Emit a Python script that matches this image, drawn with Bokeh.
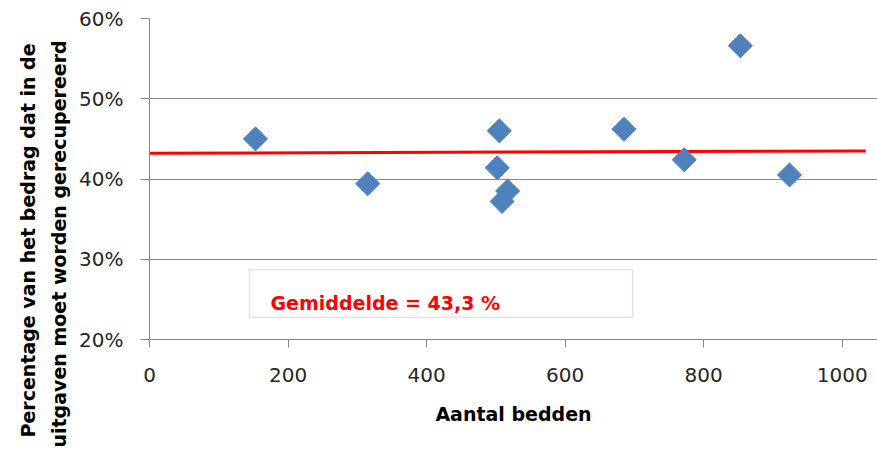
import math
from bokeh.plotting import figure
from bokeh.models import BoxAnnotation, Label, FixedTicker, CustomJSTickFormatter, Title
from bokeh.embed import file_html
from bokeh.resources import INLINE

# data
beds = [153, 315, 505, 502, 517, 509, 685, 772, 924, 853]
pct = [45.0, 39.4, 46.0, 41.4, 38.5, 37.2, 46.2, 42.4, 40.5, 56.6]
trend_x = [0, 1034]
trend_y = [43.2, 43.5]
x_ticks = [0, 200, 400, 600, 800, 1000]
y_ticks = [20, 30, 40, 50, 60]
mean_label = "Gemiddelde = 43,3 %"
y_title_lines = ["Percentage van het bedrag dat in de", "uitgaven moet worden gerecupereerd"]
x_title = "Aantal bedden"

FONT = "DejaVu Sans"
GRID = "#878787"

p = figure(width=877, height=453, output_backend="svg", toolbar_location=None,
           x_range=(0, 1051), y_range=(20, 60),
           min_border_left=149, min_border_right=0, min_border_top=18, min_border_bottom=114)
p.outline_line_color = None

p.line(trend_x, trend_y, line_color="#FF0000", line_width=3)
p.scatter(beds, pct, marker="square", size=17, angle=math.pi / 4,
          fill_color="#4F81BD", line_color="#4F81BD", line_width=1)

p.add_layout(BoxAnnotation(left=144.4, right=697.5, bottom=22.78, top=28.72,
                           fill_color="white", fill_alpha=1.0, line_color="#A6A6A6", line_width=1.5))
p.add_layout(Label(x=174.7, y=24.49, text=mean_label,
                   text_color="#FF0000", text_font=FONT, text_font_style="bold",
                   text_font_size="19px", text_baseline="alphabetic"))

# y-axis title: two lines as side titles (inner line first)
for line_text, off, so in [(y_title_lines[1], -108, 14), (y_title_lines[0], -98, 0)]:
    t = Title(text=line_text, align="left", offset=off, standoff=so,
              text_font=FONT, text_font_style="bold", text_font_size="19px",
              text_color="#000000")
    p.add_layout(t, "left")

p.xgrid.grid_line_color = None
p.ygrid.grid_line_color = GRID
p.ygrid.ticker = FixedTicker(ticks=y_ticks)

p.xaxis.ticker = FixedTicker(ticks=x_ticks)
p.yaxis.ticker = FixedTicker(ticks=y_ticks)
p.yaxis.formatter = CustomJSTickFormatter(code="return tick + '%';")

for ax in (p.xaxis, p.yaxis):
    ax.axis_line_color = GRID
    ax.major_tick_line_color = GRID
    ax.minor_tick_line_color = None
    ax.major_tick_in = 0
    ax.major_label_text_font = FONT
    ax.major_label_text_font_size = "20px"
    ax.major_label_text_color = "#262626"
    ax.axis_label_text_font = FONT
    ax.axis_label_text_font_style = "bold"
    ax.axis_label_text_font_size = "19px"
    ax.axis_label_text_color = "#000000"

p.xaxis.major_tick_out = 8
p.yaxis.major_tick_out = 9
p.xaxis.major_label_standoff = 20
p.yaxis.major_label_standoff = 17
p.xaxis.axis_label = x_title
p.xaxis.axis_label_standoff = 18

open("out.html", "w").write(file_html(p, INLINE))
